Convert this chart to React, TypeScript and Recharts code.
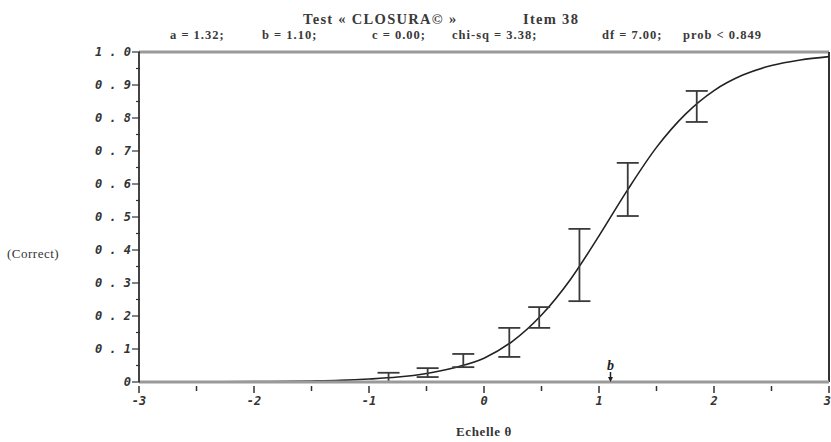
import React from 'react';
import {
  ComposedChart,
  Line,
  Scatter,
  ErrorBar,
  XAxis,
  YAxis,
  ReferenceLine,
  ReferenceDot,
  Label,
} from 'recharts';

document.body.style.margin = '0';

// fitted curve
const curveX = [-3, -2.5, -2, -1.5, -1.25, -1, -0.75, -0.5, -0.25, 0, 0.25, 0.5, 0.75, 1, 1.25, 1.5, 1.75, 2, 2.25, 2.5, 2.75, 3];
const curveP = [0.0001, 0.0003, 0.001, 0.003, 0.005, 0.009, 0.015, 0.026, 0.044, 0.072, 0.124, 0.203, 0.31, 0.443, 0.583, 0.711, 0.811, 0.883, 0.93, 0.959, 0.976, 0.986];

// observed proportions with their intervals
const obsX = [-0.83, -0.49, -0.18, 0.22, 0.48, 0.83, 1.25, 1.85];
const obsP = [0.014, 0.029, 0.065, 0.12, 0.195, 0.355, 0.583, 0.835];
const obsLo = [0.0, 0.015, 0.045, 0.076, 0.164, 0.245, 0.503, 0.788];
const obsHi = [0.028, 0.042, 0.085, 0.164, 0.227, 0.464, 0.664, 0.882];

const xTicks = [-3, -2.5, -2, -1.5, -1, -0.5, 0, 0.5, 1, 1.5, 2, 2.5, 3];
const xTickLabels = ['-3', '', '-2', '', '-1', '', '0', '', '1', '', '2', '', '3'];
const yTicks = [0, 0.05, 0.1, 0.15, 0.2, 0.25, 0.3, 0.35, 0.4, 0.45, 0.5, 0.55, 0.6, 0.65, 0.7, 0.75, 0.8, 0.85, 0.9, 0.95, 1];
const yTickLabels = ['0', '', '0 . 1', '', '0 . 2', '', '0 . 3', '', '0 . 4', '', '0 . 5', '', '0 . 6', '', '0 . 7', '', '0 . 8', '', '0 . 9', '', '1 . 0'];

const bParam = 1.1;

const titleRow1 = [
  { text: 'Test « CLOSURA© »', left: 303 },
  { text: 'Item 38', left: 523 },
];
const titleRow2 = [
  { text: 'a = 1.32;', left: 170 },
  { text: 'b = 1.10;', left: 262 },
  { text: 'c = 0.00;', left: 372 },
  { text: 'chi-sq = 3.38;', left: 452 },
  { text: 'df = 7.00;', left: 602 },
  { text: 'prob < 0.849', left: 683 },
];

const curve = curveX.map((x, i) => ({ x, p: curveP[i] }));
const observed = obsX.map((x, i) => ({
  x,
  p: obsP[i],
  err: [obsP[i] - obsLo[i], obsHi[i] - obsP[i]],
}));

const tickFont = {
  fontFamily: '"DejaVu Sans Mono", monospace',
  fontStyle: 'italic' as const,
  fontWeight: 'bold' as const,
  fontSize: 12,
  fill: '#333',
};

const XTick = (props: any) => {
  const { x, y, index } = props;
  const label = xTickLabels[index];
  const major = label !== '';
  const last = index === xTicks.length - 1;
  return (
    <g>
      <line x1={x} x2={x} y1={y - 4} y2={y + (major ? 3 : 1)} stroke="#333" strokeWidth={1.5} />
      {major && (
        <text x={last ? x + 2 : x} y={y + 15} textAnchor={last ? 'end' : 'middle'} {...tickFont}>
          {label}
        </text>
      )}
    </g>
  );
};

const YTick = (props: any) => {
  const { x, y, index } = props;
  const label = yTickLabels[index];
  const major = label !== '';
  return (
    <g>
      <line x1={x + (major ? 1 : 5)} x2={x + 9} y1={y} y2={y} stroke="#333" strokeWidth={1.2} />
      {major && (
        <text x={x} y={y + 4} textAnchor="end" {...tickFont}>
          {label}
        </text>
      )}
    </g>
  );
};

const BMarker = (props: any) => {
  const { cx, cy } = props;
  return (
    <g>
      <text
        x={cx}
        y={cy - 12}
        textAnchor="middle"
        fontFamily='"Liberation Serif", serif'
        fontStyle="italic"
        fontWeight="bold"
        fontSize={14}
        fill="#222"
      >
        b
      </text>
      <line x1={cx} x2={cx} y1={cy - 10} y2={cy - 2} stroke="#222" strokeWidth={1.5} />
      <path d={`M${cx - 2.5},${cy - 5} L${cx + 2.5},${cy - 5} L${cx},${cy} Z`} fill="#222" />
    </g>
  );
};

const serif = '"Liberation Serif", "Times New Roman", serif';

export default function App() {
  return (
    <div style={{ position: 'relative', width: 831, height: 442, background: '#fff' }}>
      {titleRow1.map((t) => (
        <div
          key={t.text}
          style={{
            position: 'absolute',
            left: t.left,
            top: 11,
            fontFamily: serif,
            fontSize: 14.5,
            fontWeight: 'bold',
            letterSpacing: 1.3,
            color: '#3a3a3a',
            whiteSpace: 'nowrap',
            lineHeight: '16px',
          }}
        >
          {t.text}
        </div>
      ))}
      {titleRow2.map((t) => (
        <div
          key={t.text}
          style={{
            position: 'absolute',
            left: t.left,
            top: 27,
            fontFamily: serif,
            fontSize: 12.5,
            fontWeight: 'bold',
            letterSpacing: 1,
            color: '#3a3a3a',
            whiteSpace: 'nowrap',
            lineHeight: '16px',
          }}
        >
          {t.text}
        </div>
      ))}
      <ComposedChart
        width={831}
        height={442}
        margin={{ top: 52, right: 2, bottom: 0, left: 0 }}
        style={{ position: 'absolute', left: 0, top: 0 }}
      >
        <XAxis
          type="number"
          dataKey="x"
          domain={[-3, 3]}
          ticks={xTicks}
          interval={0}
          allowDataOverflow
          height={60}
          axisLine={{ stroke: '#9a9a9a', strokeWidth: 3 }}
          tickLine={false}
          tick={<XTick />}
        >
          <Label
            value="Echelle θ"
            position="insideBottom"
            offset={6}
            style={{ fontFamily: serif, fontSize: 13, fontWeight: 'bold', letterSpacing: 0.6, fill: '#333' }}
          />
        </XAxis>
        <YAxis
          type="number"
          domain={[0, 1]}
          ticks={yTicks}
          interval={0}
          allowDataOverflow
          width={139}
          axisLine={{ stroke: '#444', strokeWidth: 2 }}
          tickLine={false}
          tick={<YTick />}
        >
          <Label
            value="(Correct)"
            position="insideLeft"
            offset={7}
            dy={36}
            style={{ fontFamily: serif, fontSize: 13, letterSpacing: 0.5, fill: '#333', textAnchor: 'start' }}
          />
        </YAxis>
        <ReferenceLine y={1} stroke="#9a9a9a" strokeWidth={3} />
        <ReferenceLine x={3} stroke="#333" strokeWidth={2} />
        <Line
          data={curve}
          dataKey="p"
          type="monotone"
          stroke="#222"
          strokeWidth={1.6}
          dot={false}
          isAnimationActive={false}
        />
        <Scatter data={observed} dataKey="p" shape={() => <g />} isAnimationActive={false}>
          <ErrorBar dataKey="err" direction="y" width={11} stroke="#3a3a3a" strokeWidth={1.8} isAnimationActive={false} />
        </Scatter>
        <ReferenceDot x={bParam} y={0} shape={<BMarker />} />
      </ComposedChart>
    </div>
  );
}
